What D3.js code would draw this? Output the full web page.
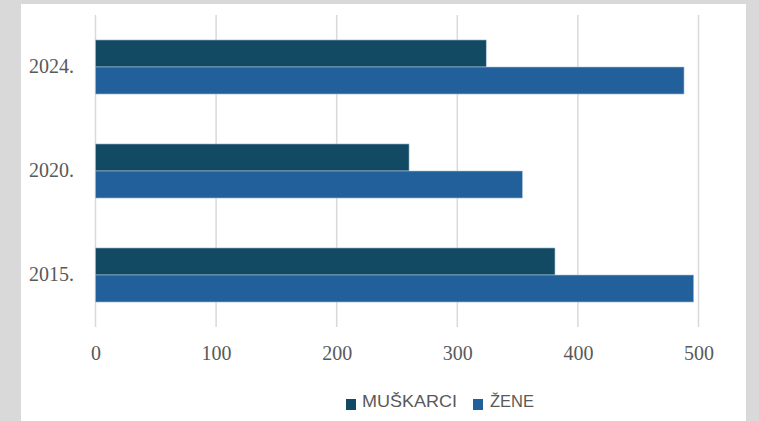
<!DOCTYPE html>
<html>
<head>
<meta charset="utf-8">
<script src="https://cdn.jsdelivr.net/npm/d3@7"></script>
<style>
  body { margin: 0; background: #d9d9d9; }
  svg { display: block; }
</style>
</head>
<body>
<svg id="chart"></svg>
<script>
var years = ["2024.", "2020.", "2015."];
var series = ["MUŠKARCI", "ŽENE"];
var muskarci = [324, 260, 381];
var zene = [488, 354, 496];
var xTicks = [0, 100, 200, 300, 400, 500];
var colors = ["#124a63", "#21609b"];

var W = 759, H = 421;
var svg = d3.select("#chart").attr("width", W).attr("height", H);

// white panel
svg.append("rect")
    .attr("x", 21).attr("y", 4)
    .attr("width", 725).attr("height", H - 4)
    .attr("fill", "#ffffff");

var x = d3.scaleLinear().domain([0, 500]).range([95.5, 698.5]);
var y = d3.scaleBand().domain(years).range([15, 327])
    .paddingInner(0.48).paddingOuter(0.24);
var ySub = d3.scaleBand().domain(series).range([0, y.bandwidth()]);

// gridlines
svg.append("g")
    .selectAll("line")
    .data(xTicks)
    .join("line")
    .attr("x1", function(d) { return x(d); })
    .attr("x2", function(d) { return x(d); })
    .attr("y1", 15)
    .attr("y2", 327)
    .attr("stroke", "#d9d9d9")
    .attr("stroke-width", 1.5);

var rows = years.map(function(yr, i) {
    return { year: yr, values: [muskarci[i], zene[i]] };
});

var groups = svg.append("g")
    .selectAll("g")
    .data(rows)
    .join("g")
    .attr("transform", function(d) { return "translate(0," + y(d.year) + ")"; });

groups.selectAll("rect")
    .data(function(d) { return d.values.map(function(v, k) { return { s: series[k], v: v, k: k }; }); })
    .join("rect")
    .attr("x", x(0))
    .attr("y", function(d) { return ySub(d.s); })
    .attr("width", function(d) { return x(d.v) - x(0); })
    .attr("height", ySub.bandwidth())
    .attr("fill", function(d) { return colors[d.k]; })
    .attr("stroke", "#a9c4dc")
    .attr("stroke-width", 0.6);

// x axis labels
var xAxis = svg.append("g")
    .attr("transform", "translate(0,353)")
    .call(d3.axisBottom(x).tickValues(xTicks).tickSize(0).tickPadding(0));
xAxis.select(".domain").remove();
xAxis.selectAll("text")
    .attr("dy", "0.35em")
    .attr("font-family", "Liberation Serif")
    .attr("font-size", 20)
    .attr("fill", "#595959");

// y axis labels
var yAxis = svg.append("g")
    .attr("transform", "translate(74,0)")
    .call(d3.axisLeft(y).tickSize(0).tickPadding(0));
yAxis.select(".domain").remove();
yAxis.selectAll("text")
    .attr("font-family", "Liberation Serif")
    .attr("font-size", 20)
    .attr("fill", "#595959");

// legend
var legend = svg.append("g");
var legX = [346, 473];
var legTextX = [362, 490];
var legTextLen = [95, 44];
series.forEach(function(s, i) {
    legend.append("rect")
        .attr("x", legX[i]).attr("y", 399)
        .attr("width", 10).attr("height", 11)
        .attr("fill", colors[i]);
    legend.append("text")
        .attr("x", legTextX[i]).attr("y", 407)
        .attr("font-family", "Liberation Sans")
        .attr("font-size", 17)
        .attr("textLength", legTextLen[i])
        .attr("lengthAdjust", "spacingAndGlyphs")
        .attr("fill", "#595959")
        .text(s);
});
</script>
</body>
</html>
